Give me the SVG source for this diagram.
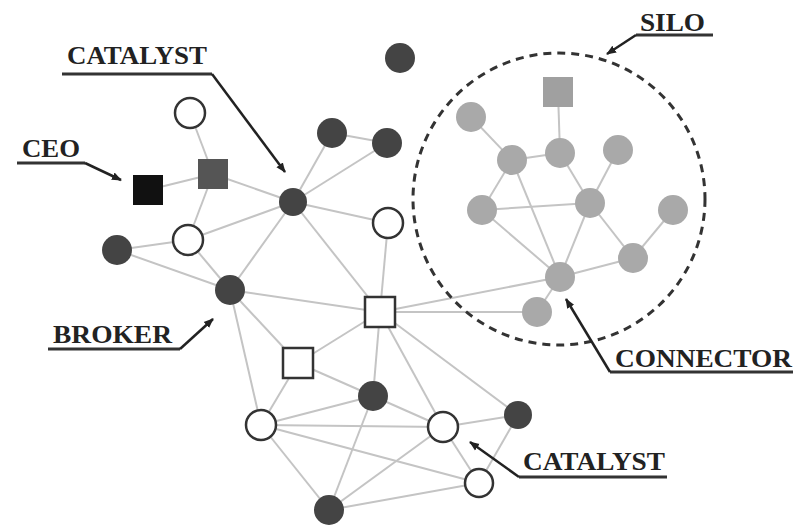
<svg xmlns="http://www.w3.org/2000/svg" width="793" height="527" viewBox="0 0 793 527">
<defs>
<marker id="ah" viewBox="0 0 10 10" refX="9" refY="5" markerWidth="4" markerHeight="4" orient="auto">
<path d="M0,1 L10,5 L0,9 z" fill="#222"/>
</marker>
<style>
.e{stroke:#c4c4c4;stroke-width:2;fill:none}
.dk{fill:#444}
.op{fill:#fff;stroke:#333;stroke-width:2.5}
.sl{fill:#a9a9a9}
.lbl{font-family:"Liberation Serif",serif;font-weight:bold;font-size:26px;fill:#222}
.ul{stroke:#333;stroke-width:3;fill:none}
.ld{stroke:#222;stroke-width:2.5;fill:none;marker-end:url(#ah)}
</style>
</defs>
<rect width="793" height="527" fill="#fff"/>
<g id="connectors">
<line class="e" x1="190" y1="113" x2="213" y2="174"/>
<line class="e" x1="148" y1="190" x2="213" y2="174"/>
<line class="e" x1="213" y1="174" x2="293" y2="202"/>
<line class="e" x1="213" y1="174" x2="188" y2="240"/>
<line class="e" x1="188" y1="240" x2="117" y2="250"/>
<line class="e" x1="188" y1="240" x2="293" y2="202"/>
<line class="e" x1="117" y1="250" x2="230" y2="290"/>
<line class="e" x1="188" y1="240" x2="230" y2="290"/>
<line class="e" x1="293" y1="202" x2="332" y2="133"/>
<line class="e" x1="293" y1="202" x2="387" y2="143"/>
<line class="e" x1="332" y1="133" x2="387" y2="143"/>
<line class="e" x1="293" y1="202" x2="388" y2="223"/>
<line class="e" x1="293" y1="202" x2="230" y2="290"/>
<line class="e" x1="293" y1="202" x2="380" y2="312"/>
<line class="e" x1="388" y1="223" x2="380" y2="312"/>
<line class="e" x1="230" y1="290" x2="380" y2="312"/>
<line class="e" x1="230" y1="290" x2="298" y2="363"/>
<line class="e" x1="230" y1="290" x2="261" y2="425"/>
<line class="e" x1="380" y1="312" x2="560" y2="277"/>
<line class="e" x1="380" y1="312" x2="537" y2="312"/>
<line class="e" x1="380" y1="312" x2="298" y2="363"/>
<line class="e" x1="380" y1="312" x2="373" y2="396"/>
<line class="e" x1="380" y1="312" x2="443" y2="427"/>
<line class="e" x1="380" y1="312" x2="518" y2="415"/>
<line class="e" x1="298" y1="363" x2="373" y2="396"/>
<line class="e" x1="298" y1="363" x2="261" y2="425"/>
<line class="e" x1="261" y1="425" x2="373" y2="396"/>
<line class="e" x1="261" y1="425" x2="443" y2="427"/>
<line class="e" x1="261" y1="425" x2="479" y2="483"/>
<line class="e" x1="261" y1="425" x2="329" y2="510"/>
<line class="e" x1="373" y1="396" x2="443" y2="427"/>
<line class="e" x1="373" y1="396" x2="329" y2="510"/>
<line class="e" x1="443" y1="427" x2="518" y2="415"/>
<line class="e" x1="443" y1="427" x2="329" y2="510"/>
<line class="e" x1="443" y1="427" x2="479" y2="483"/>
<line class="e" x1="518" y1="415" x2="479" y2="483"/>
<line class="e" x1="329" y1="510" x2="479" y2="483"/>
<line class="e" x1="558" y1="92" x2="560" y2="153"/>
<line class="e" x1="471" y1="117" x2="512" y2="160"/>
<line class="e" x1="512" y1="160" x2="560" y2="153"/>
<line class="e" x1="512" y1="160" x2="482" y2="210"/>
<line class="e" x1="512" y1="160" x2="560" y2="277"/>
<line class="e" x1="560" y1="153" x2="590" y2="203"/>
<line class="e" x1="618" y1="150" x2="590" y2="203"/>
<line class="e" x1="482" y1="210" x2="590" y2="203"/>
<line class="e" x1="482" y1="210" x2="560" y2="277"/>
<line class="e" x1="590" y1="203" x2="560" y2="277"/>
<line class="e" x1="590" y1="203" x2="633" y2="258"/>
<line class="e" x1="673" y1="210" x2="633" y2="258"/>
<line class="e" x1="560" y1="277" x2="633" y2="258"/>
<line class="e" x1="560" y1="277" x2="537" y2="312"/>
</g>
<g id="silo">
<circle cx="559" cy="199" r="146" fill="none" stroke="#333" stroke-width="3" stroke-dasharray="8,6"/>
</g>
<g id="n_top_open"><circle class="op" cx="190" cy="113" r="15"/></g>
<g id="n_ceo"><rect x="133" y="175" width="30" height="30" fill="#111"/></g>
<g id="n_sq_dark"><rect x="198" y="159" width="30" height="30" fill="#555"/></g>
<g id="n_catalyst"><circle class="dk" cx="293" cy="202" r="14"/></g>
<g id="n_d1"><circle class="dk" cx="332" cy="133" r="15"/></g>
<g id="n_d2"><circle class="dk" cx="387" cy="143" r="15"/></g>
<g id="n_iso"><circle class="dk" cx="400" cy="58" r="15"/></g>
<g id="n_o1"><circle class="op" cx="388" cy="223" r="15"/></g>
<g id="n_o2"><circle class="op" cx="188" cy="240" r="15"/></g>
<g id="n_d3"><circle class="dk" cx="117" cy="250" r="15"/></g>
<g id="n_broker"><circle class="dk" cx="230" cy="290" r="15"/></g>
<g id="n_sq_open1"><rect class="op" x="365" y="297" width="30" height="30"/></g>
<g id="n_sq_open2"><rect class="op" x="283" y="348" width="30" height="30"/></g>
<g id="n_d4"><circle class="dk" cx="373" cy="396" r="15"/></g>
<g id="n_o3"><circle class="op" cx="261" cy="425" r="15"/></g>
<g id="n_o4"><circle class="op" cx="443" cy="427" r="15"/></g>
<g id="n_d5"><circle class="dk" cx="518" cy="415" r="14"/></g>
<g id="n_o5"><circle class="op" cx="479" cy="483" r="14"/></g>
<g id="n_d6"><circle class="dk" cx="329" cy="510" r="15"/></g>
<g id="s_sq"><rect x="543" y="77" width="30" height="30" fill="#a0a0a0"/></g>
<g id="s1"><circle class="sl" cx="471" cy="117" r="15"/></g>
<g id="s2"><circle class="sl" cx="512" cy="160" r="15"/></g>
<g id="s3"><circle class="sl" cx="560" cy="153" r="15"/></g>
<g id="s4"><circle class="sl" cx="618" cy="150" r="15"/></g>
<g id="s5"><circle class="sl" cx="482" cy="210" r="15"/></g>
<g id="s6"><circle class="sl" cx="590" cy="203" r="15"/></g>
<g id="s7"><circle class="sl" cx="673" cy="210" r="15"/></g>
<g id="s8"><circle class="sl" cx="633" cy="258" r="15"/></g>
<g id="s_connector"><circle class="sl" cx="560" cy="277" r="15"/></g>
<g id="s9"><circle class="sl" cx="537" cy="312" r="15"/></g>
<g id="lbl_catalyst_top">
<text class="lbl" x="67" y="64" textLength="140" lengthAdjust="spacingAndGlyphs">CATALYST</text>
<polyline class="ul" points="62,74 212,74"/>
<polyline class="ld" points="212,74 285,172"/>
</g>
<g id="lbl_ceo">
<text class="lbl" x="22" y="157" textLength="58" lengthAdjust="spacingAndGlyphs">CEO</text>
<polyline class="ul" points="17,163 85,163"/>
<polyline class="ld" points="85,163 121,180"/>
</g>
<g id="lbl_broker">
<text class="lbl" x="53" y="343" textLength="119" lengthAdjust="spacingAndGlyphs">BROKER</text>
<polyline class="ul" points="48,349 180,349"/>
<polyline class="ld" points="180,349 213,319"/>
</g>
<g id="lbl_silo">
<text class="lbl" x="640" y="31" textLength="65" lengthAdjust="spacingAndGlyphs">SILO</text>
<polyline class="ul" points="636,35 713,35"/>
<polyline class="ld" points="636,35 607,54"/>
</g>
<g id="lbl_connector">
<text class="lbl" x="615" y="367" textLength="177" lengthAdjust="spacingAndGlyphs">CONNECTOR</text>
<polyline class="ul" points="610,372 793,372"/>
<polyline class="ld" points="610,372 566,299"/>
</g>
<g id="lbl_catalyst_bottom">
<text class="lbl" x="523" y="470" textLength="142" lengthAdjust="spacingAndGlyphs">CATALYST</text>
<polyline class="ul" points="519,477 667,477"/>
<polyline class="ld" points="519,477 470,442"/>
</g>
</svg>
